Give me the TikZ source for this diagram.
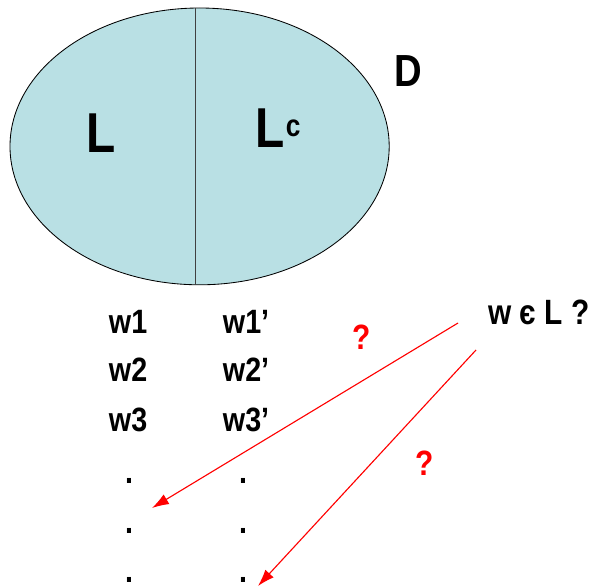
\documentclass[tikz,border=0pt]{standalone}
\usepackage{fontspec}
\setmainfont{Liberation Sans}[FakeStretch=0.85]
\usetikzlibrary{arrows.meta}
\definecolor{setblue}{RGB}{185,224,228}
\tikzset{
    big/.style={font=\bfseries\fontsize{40}{44}\selectfont},
    word/.style={font=\bfseries\fontsize{24}{27}\selectfont, anchor=west},
    dotmark/.style={font=\bfseries\fontsize{24}{27}\selectfont, inner sep=0pt},
    ask/.style={red, font=\bfseries\fontsize{25}{28}\selectfont},
    guess/.style={red, line width=0.8pt, -{Latex[length=12pt,width=8pt]}}
}

\begin{document}
\begin{tikzpicture}
    \useasboundingbox (0,0) rectangle (14.9,-14.7);

    \draw[fill=setblue, line width=0.6pt] (4.99,-3.66) ellipse (4.74 and 3.46);
    \draw[line width=0.6pt, black!75] (4.875,-0.2) -- (4.875,-7.12);

    \node[big] (lang) at (2.525,-3.33) {L};
    \node[big] (compl) at (6.95,-3.2) {L\kern1pt\raisebox{0.35ex}{\fontsize{22}{24}\selectfont c}};
    \node[font=\bfseries\fontsize{32}{36}\selectfont] (dom) at (10.2,-1.78) {D};

    \node[word] (wa) at (2.6,-8.05) {w1};
    \node[word] (wb) at (2.6,-9.25) {w2};
    \node[word] (wc) at (2.6,-10.5) {w3};

    \node[word] (va) at (5.45,-8.05) {w1’};
    \node[word] (vb) at (5.45,-9.25) {w2’};
    \node[word] (vc) at (5.45,-10.5) {w3’};

    \node[dotmark] (da) at (3.225,-12.02) {.};
    \node[dotmark] (db) at (3.225,-13.27) {.};
    \node[dotmark] (dc) at (3.225,-14.5) {.};
    \node[dotmark] (ea) at (6.075,-12.02) {.};
    \node[dotmark] (eb) at (6.075,-13.27) {.};
    \node[dotmark] (ec) at (6.075,-14.5) {.};

    \node[font=\bfseries\fontsize{25}{28}\selectfont] (query) at (13.475,-7.8) {w є L ?};

    \node[ask] (qa) at (9.05,-8.43) {?};
    \node[ask] (qb) at (10.625,-11.58) {?};

    \coordinate (fromA) at (11.45,-8.075);
    \coordinate (fromB) at (11.9,-8.75);
    \coordinate (toA) at (3.8,-12.7);
    \coordinate (toB) at (6.45,-14.65);

    \draw[guess] (fromA) -- (toA);
    \draw[guess] (fromB) -- (toB);
\end{tikzpicture}
\end{document}
